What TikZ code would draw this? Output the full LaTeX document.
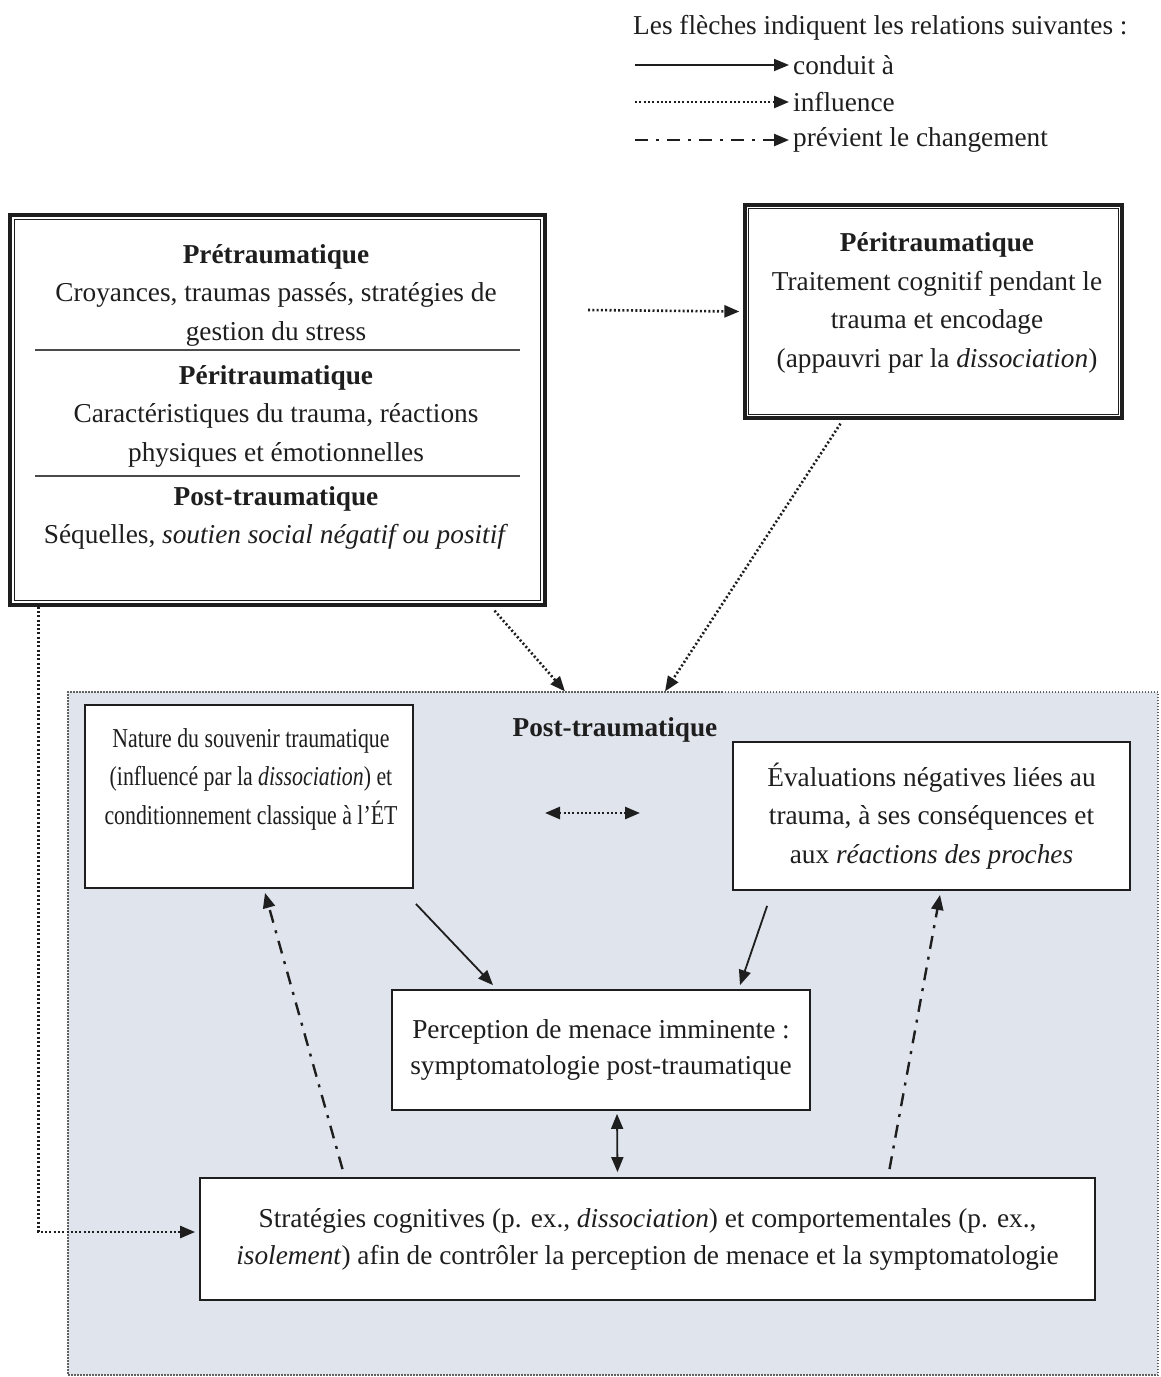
\documentclass[tikz,border=0pt]{standalone}
\usepackage{fontspec}
\setmainfont{Liberation Serif}
\usetikzlibrary{arrows.meta,calc}
\definecolor{regionfill}{HTML}{E0E4EC}
\definecolor{ink}{HTML}{1E1E1E}
\begin{document}
\begin{tikzpicture}[x=1pt,y=-1pt,
  txt/.style={font=\fontsize{27.3}{38.5}\selectfont, align=center, inner sep=0pt, text=ink},
  hdr/.style={txt, font=\fontsize{27.3}{38.5}\selectfont\bfseries},
  box/.style={draw=ink, line width=1.8pt, fill=white, inner sep=0pt},
  tip/.style={-{Triangle[length=15pt,width=12pt]}},
  dtip/.style={{Triangle[length=15pt,width=12pt]}-{Triangle[length=15pt,width=12pt]}},
  solidline/.style={draw=ink, line width=1.8pt},
  dotline/.style={draw=ink, line width=2.6pt, dash pattern=on 2pt off 2.3pt},
  dashdotline/.style={draw=ink, line width=2.4pt, dash pattern=on 13pt off 8pt on 3pt off 8pt}
]
\useasboundingbox (0,0) rectangle (1161,1377);

% legend
\node[txt, anchor=west] (legtitle) at (633,28) {Les flèches indiquent les relations suivantes :};
\node[txt, anchor=west] (legA) at (793,65) {conduit à};
\node[txt, anchor=west] (legB) at (793,102) {influence};
\node[txt, anchor=west] (legC) at (793,140) {prévient le changement};
\coordinate (la) at (635,65);
\coordinate (lb) at (635,102);
\coordinate (lc) at (635,140);
\draw[solidline, tip] (la) -- ([xshift=-4pt]legA.west);
\draw[dotline, tip] (lb) -- ([xshift=-4pt]legB.west);
\draw[dashdotline, tip] (lc) -- ([xshift=-4pt]legC.west);

% pre box
\node[box, line width=3.2pt, minimum width=535pt, minimum height=390pt] (pre) at (277.5,410) {};
\draw[draw=ink, line width=1.1pt] ([xshift=6pt,yshift=-6pt]pre.north west) rectangle ([xshift=-6pt,yshift=6pt]pre.south east);
\node[txt] (preA) at (276,295) {\textbf{Prétraumatique}\\Croyances, traumas passés, stratégies de\\gestion du stress};
\node[txt] (preB) at (276,416) {\textbf{Péritraumatique}\\Caractéristiques du trauma, réactions\\physiques et émotionnelles};
\node[txt] (preC) at (276,518) {\textbf{Post-traumatique}\\Séquelles, \textit{soutien social négatif ou positif}};
\draw[draw=ink!80, line width=1.5pt] (35,350) -- (520,350);
\draw[draw=ink!80, line width=1.5pt] (35,476) -- (520,476);

% peri box
\node[box, line width=3.2pt, minimum width=377pt, minimum height=213pt] (peri) at (933.5,311.5) {};
\draw[draw=ink, line width=1.1pt] ([xshift=5pt,yshift=-5pt]peri.north west) rectangle ([xshift=-5pt,yshift=5pt]peri.south east);
\node[txt] (periT) at (937,303) {\textbf{Péritraumatique}\\Traitement cognitif pendant le\\trauma et encodage\\(appauvri par la \textit{dissociation})};

\coordinate (pstart) at (588,310);
\draw[dotline, tip] (pstart) -- ([xshift=-4pt]peri.west);

% post-traumatic region
\node[fill=regionfill, draw=ink!70, line width=1.2pt, dash pattern=on 1.5pt off 1.5pt, minimum width=1090pt, minimum height=683pt, inner sep=0pt] (post) at (613,1033.5) {};
\node[hdr] (posttitle) at (615,730) {Post-traumatique};

\draw[dotline, tip] ([xshift=217pt,yshift=-4pt]pre.south) -- ([xshift=-48pt]post.north);
\draw[dotline, tip] ([xshift=-93pt,yshift=-4pt]peri.south) -- ([xshift=52pt]post.north);

% inner boxes
\node[box, minimum width=328pt, minimum height=183pt] (natA) at (249,796.5) {};
\node[txt, xscale=0.8, transform shape] (natAT) at (251,779) {Nature du souvenir traumatique\\(influencé par la \textit{dissociation}) et\\conditionnement classique à l'ÉT};

\node[box, txt, minimum width=397pt, minimum height=148pt] (evalB) at (931.5,816) {Évaluations négatives liées au\\trauma, à ses conséquences et\\aux \textit{réactions des proches}};

\node[box, txt, minimum width=418pt, minimum height=120pt, font=\fontsize{27.3}{36}\selectfont] (percC) at (601,1050) {Perception de menace imminente :\\symptomatologie post-traumatique};

\node[box, txt, minimum width=895pt, minimum height=122pt, font=\fontsize{27.3}{37}\selectfont] (stratD) at (647.5,1239) {Stratégies cognitives (p. ex., \textit{dissociation}) et comportementales (p. ex.,\\\textit{isolement}) afin de contrôler la perception de menace et la symptomatologie};

% connectors inside
\coordinate (ab1) at (545,813);
\coordinate (ab2) at (640,813);
\draw[dotline, dtip] (ab1) -- (ab2);

\draw[solidline, tip] ([xshift=2pt,yshift=-15pt]natA.south east) -- ([xshift=-108pt,yshift=4pt]percC.north);
\draw[solidline, tip] ([xshift=35pt,yshift=-15pt]evalB.south west) -- ([xshift=139pt,yshift=4pt]percC.north);
\draw[solidline, dtip] ([xshift=16pt,yshift=-3pt]percC.south) -- ([xshift=-30pt,yshift=5pt]stratD.north);

\draw[dashdotline, tip] ([xshift=-305pt,yshift=8pt]stratD.north) -- ([xshift=16pt,yshift=-4pt]natA.south);
\draw[dashdotline, tip] ([xshift=242pt,yshift=8pt]stratD.north) -- ([xshift=8.5pt,yshift=-4pt]evalB.south);

\draw[dotline, tip] ([xshift=30pt]pre.south west) |- ([yshift=7pt,xshift=-4pt]stratD.west);
\end{tikzpicture}
\end{document}
